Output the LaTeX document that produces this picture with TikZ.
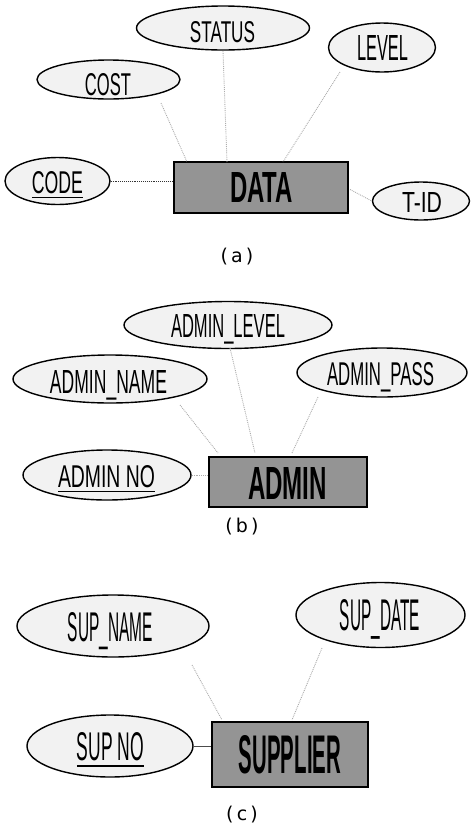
\documentclass[tikz,border=0pt]{standalone}
\usepackage{fontspec}
\setmainfont{Liberation Sans}
\newfontfamily\labfont{DejaVu Sans}
\usetikzlibrary{shapes.geometric,calc}
\newcommand{\rt}[3]{\resizebox{#1pt}{#2pt}{#3}}
\tikzset{
  attr/.style={ellipse, draw=black, line width=1.4pt, fill=gray!10, inner sep=0pt},
  ent/.style={rectangle, draw=black, line width=2.2pt, fill=black!42, inner sep=0pt},
  txt/.style={anchor=base, inner sep=0pt},
  link/.style={draw=gray!65, line width=0.9pt, densely dotted},
  keylink/.style={draw=gray!40!black, line width=0.9pt, densely dotted},
  sublab/.style={inner sep=0pt, font=\labfont\fontsize{19}{22}\selectfont}
}
\begin{document}
\begin{tikzpicture}[x=1pt,y=-1pt]
\useasboundingbox (0,0) rectangle (471,831);
% ---------- (a)
\node[attr, minimum width=173pt, minimum height=44pt] (status) at (223,28) {};
\node[attr, minimum width=107pt, minimum height=49pt] (level) at (382,47.5) {};
\node[attr, minimum width=143pt, minimum height=39pt] (cost) at (108.5,79.5) {};
\node[attr, minimum width=105pt, minimum height=47pt] (code) at (57.5,181) {};
\node[ent, minimum width=174pt, minimum height=51pt] (data) at (261,187.5) {};
\node[attr, minimum width=97pt, minimum height=38pt] (tid) at (421,201) {};
\node[txt] (tstatus) at (222.5,42) {\rt{65}{21}{STATUS}};
\node[txt] (tlevel) at (382.5,60) {\rt{51}{25}{LEVEL}};
\node[txt] (tcost) at (108,95) {\rt{46}{22}{COST}};
\node[txt] (tcode) at (57.5,193) {\rt{51}{22}{\underline{CODE}}};
\node[txt] (tdata) at (261.5,202) {\rt{63}{30}{\bfseries DATA}};
\node[txt] (ttid) at (422,212) {\rt{40}{20}{T-ID}};
\node[sublab] (laba) at (237,257) {(\,a\,)};
\draw[link] ($(cost)+(52.5,23.5)$) -- ($(data)+(-74,-25.5)$);
\draw[link] ($(status)+(0,23)$) -- ($(data)+(-34,-25.5)$);
\draw[link] ($(level)+(-42,24.5)$) -- ($(data)+(22,-25.5)$);
\draw[keylink] (code.east) -- (code.east -| data.west);
\draw[link] ($(data.east)+(1,2)$) -- (tid.west);
% ---------- (b)
\node[attr, minimum width=208pt, minimum height=47pt] (alevel) at (228,325) {};
\node[attr, minimum width=194pt, minimum height=48pt] (aname) at (110,379) {};
\node[attr, minimum width=170pt, minimum height=49pt] (apass) at (382,372.5) {};
\node[attr, minimum width=168pt, minimum height=50pt] (ano) at (107,475) {};
\node[ent, minimum width=158pt, minimum height=50pt] (admin) at (288,482) {};
\node[txt] (talevel) at (228,337) {\rt{114}{23}{ADMIN\_LEVEL}};
\node[txt] (taname) at (108.5,393) {\rt{117}{23}{ADMIN\_NAME}};
\node[txt] (tapass) at (380.5,385) {\rt{107}{23}{ADMIN\_PASS}};
\node[txt] (tano) at (106.5,487) {\rt{97}{22}{\underline{ADMIN NO}}};
\node[txt] (tadmin) at (287.5,499) {\rt{79}{32}{\bfseries ADMIN}};
\node[sublab] (labb) at (242,527) {(\,b\,)};
\draw[link] ($(aname)+(70,26)$) -- ($(admin)+(-70,-29)$);
\draw[link] ($(alevel)+(2,23)$) -- ($(admin)+(-33,-29)$);
\draw[link] ($(apass)+(-64,24.5)$) -- ($(admin)+(4,-29)$);
\draw[link] (ano.east) -- (ano.east -| admin.west);
% ---------- (c)
\node[attr, minimum width=192pt, minimum height=62pt] (sname) at (113,626) {};
\node[attr, minimum width=169pt, minimum height=65pt] (sdate) at (380.5,615) {};
\node[attr, minimum width=166pt, minimum height=62pt] (sno) at (110,746) {};
\node[ent, minimum width=156pt, minimum height=65pt] (supplier) at (290,754.5) {};
\node[txt] (tsname) at (110.5,641) {\rt{85}{29}{SUP\_NAME}};
\node[txt] (tsdate) at (380,630) {\rt{80}{31}{SUP\_DATE}};
\node[txt] (tsno) at (110.5,760) {\rt{67}{28}{\underline{SUP NO}}};
\node[txt] (tsupplier) at (290,773) {\rt{102}{38}{\bfseries SUPPLIER}};
\node[sublab] (labc) at (242,815) {(\,c\,)};
\draw[link] ($(sname)+(79,39)$) -- ($(supplier)+(-68,-34.5)$);
\draw[link] ($(sdate)+(-58.5,33)$) -- ($(supplier)+(2,-34.5)$);
\draw[draw=gray!60!black, line width=0.8pt] (sno.east) -- (sno.east -| supplier.west);
\end{tikzpicture}
\end{document}
